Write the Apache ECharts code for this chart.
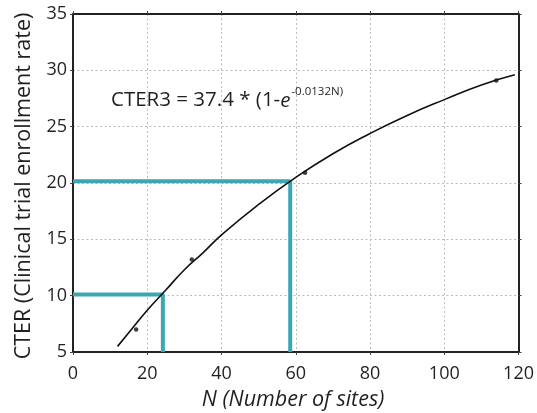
<!DOCTYPE html>
<html>
<head>
<meta charset="utf-8">
<script src="https://cdn.jsdelivr.net/npm/echarts@6/dist/echarts.min.js"></script>
<style>
html,body{margin:0;padding:0;background:#fff;}
#chart{width:537px;height:413px;}
</style>
</head>
<body>
<div id="chart"></div>
<script>
// Axis ranges (tick labels: 0..120 step 20, 5..35 step 5)
const xMin = 0, xMax = 120, xStep = 20;
const yMin = 5, yMax = 35, yStep = 5;

// Fitted curve
const curveN    = [12, 15, 20, 25, 30, 35, 40, 50, 60, 70, 80, 90, 100, 110, 119];
const curveCTER = [5.5, 6.7, 8.7, 10.5, 12.3, 13.8, 15.4, 18.1, 20.5, 22.6, 24.4, 26.0, 27.4, 28.7, 29.6];

// Observed points
const obsN    = [17, 32, 62.5, 114];
const obsCTER = [7.0, 13.2, 20.9, 29.1];

// Teal guide lines
const guide1N    = [0, 24.2, 24.2];
const guide1CTER = [10.1, 10.1, 5];
const guide2N    = [0, 58.5, 58.5];
const guide2CTER = [20.15, 20.15, 5];

const xTitle = 'N (Number of sites)';
const yTitle = 'CTER (Clinical trial enrollment rate)';

const zip = (a, b) => a.map((v, i) => [v, b[i]]);

const FONT = '"Open Sans", "Noto Sans", sans-serif';
const TXT = '#231f20';
const axisLine = { show: true, onZero: false, lineStyle: { color: '#222', width: 2 } };
const tick = { show: true, inside: false, length: 3, lineStyle: { color: '#444', width: 1 } };
const split = { show: true, lineStyle: { color: '#c2b8b8', width: 1, type: [2, 2.5] } };

const chart = echarts.init(document.getElementById('chart'), null, { renderer: 'canvas' });
chart.setOption({
  backgroundColor: '#fff',
  animation: false,
  grid: { left: 73, right: 18, top: 14, bottom: 61, containLabel: false },
  xAxis: [
    {
      type: 'value', min: xMin, max: xMax, interval: xStep, position: 'bottom',
      axisLine, axisTick: tick, splitLine: split,
      axisLabel: { fontSize: 18, color: TXT, fontFamily: FONT, margin: 13 }
    },
    {
      type: 'value', min: xMin, max: xMax, interval: xStep, position: 'top',
      axisLine, axisTick: tick, splitLine: { show: false }, axisLabel: { show: false }
    }
  ],
  yAxis: [
    {
      type: 'value', min: yMin, max: yMax, interval: yStep, position: 'left',
      axisLine, axisTick: tick, splitLine: split,
      axisLabel: { fontSize: 18, color: TXT, fontFamily: FONT, margin: 6 }
    },
    {
      type: 'value', min: yMin, max: yMax, interval: yStep, position: 'right',
      axisLine, axisTick: tick, splitLine: { show: false }, axisLabel: { show: false }
    }
  ],
  series: [
    {
      type: 'line', data: zip(guide1N, guide1CTER), symbol: 'none', z: 2,
      lineStyle: { color: '#3aa7b1', width: 4 }
    },
    {
      type: 'line', data: zip(guide2N, guide2CTER), symbol: 'none', z: 2,
      lineStyle: { color: '#3aa7b1', width: 4 }
    },
    {
      type: 'line', data: zip(curveN, curveCTER), symbol: 'none', smooth: true, z: 3,
      lineStyle: { color: '#111', width: 1.6 }
    },
    {
      type: 'scatter', data: zip(obsN, obsCTER), symbol: 'circle', symbolSize: 4.5, z: 4,
      itemStyle: { color: '#111' }
    }
  ],
  graphic: [
    {
      type: 'text', left: 111, top: 85, z: 10,
      style: {
        text: '{a|CTER3 = 37.4 * (1-}{e|e}{s|-0.0132N)}',
        rich: {
          a: { fontSize: 20.5, fontFamily: FONT, fill: TXT, color: TXT, lineHeight: 26, verticalAlign: 'bottom' },
          e: { fontSize: 20.5, fontFamily: FONT, fontStyle: 'italic', fill: TXT, color: TXT, lineHeight: 26, verticalAlign: 'bottom' },
          s: { fontSize: 11.5, fontFamily: FONT, fill: TXT, color: TXT, lineHeight: 26, verticalAlign: 'top', padding: [1, 0, 0, 1] }
        }
      }
    },
    {
      type: 'text', x: 24, y: 186, rotation: Math.PI / 2, z: 10,
      style: {
        text: yTitle, fontSize: 21.5, fontFamily: FONT, fill: TXT,
        align: 'center', verticalAlign: 'middle'
      }
    },
    {
      type: 'text', x: 293, y: 400, z: 10,
      style: {
        text: xTitle, fontSize: 21.5, fontFamily: FONT, fontStyle: 'italic', fill: TXT,
        align: 'center', verticalAlign: 'middle'
      }
    }
  ]
});
</script>
</body>
</html>
